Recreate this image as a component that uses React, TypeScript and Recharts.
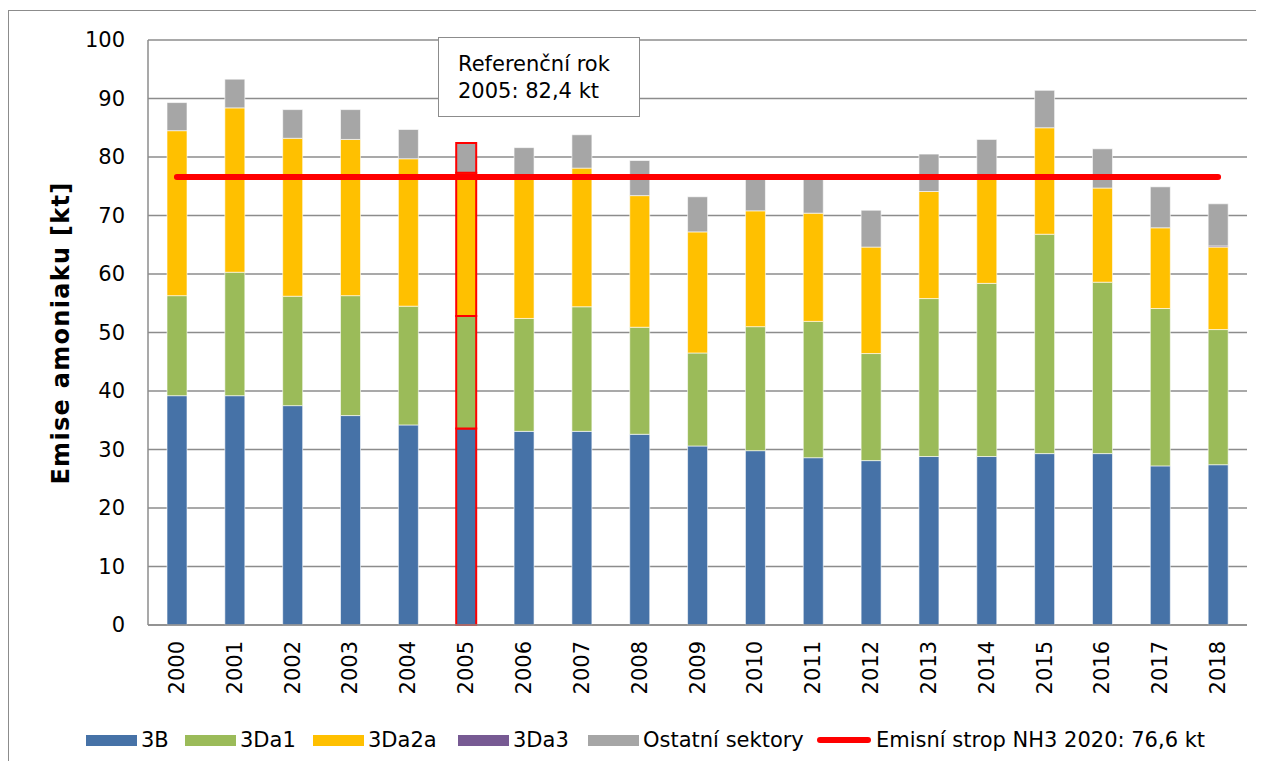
import React from "react";
import {
  ComposedChart,
  Bar,
  Line,
  XAxis,
  YAxis,
  CartesianGrid,
  Cell,
} from "recharts";

const years = [
  "2000", "2001", "2002", "2003", "2004", "2005", "2006", "2007", "2008", "2009",
  "2010", "2011", "2012", "2013", "2014", "2015", "2016", "2017", "2018",
];
const s3B = [39.2, 39.2, 37.5, 35.8, 34.2, 33.6, 33.1, 33.1, 32.6, 30.6, 29.8, 28.6, 28.1, 28.8, 28.8, 29.3, 29.3, 27.2, 27.4];
const s3Da1 = [17.1, 21.1, 18.7, 20.5, 20.3, 19.2, 19.3, 21.3, 18.3, 15.9, 21.2, 23.3, 18.3, 27.0, 29.6, 37.5, 29.3, 26.9, 23.1];
const s3Da2a = [28.2, 28.1, 27.0, 26.7, 25.2, 24.5, 24.0, 23.7, 22.5, 20.7, 19.8, 18.5, 18.2, 18.3, 17.9, 18.2, 16.1, 13.8, 14.1];
const s3Da3 = [0, 0, 0, 0, 0, 0, 0, 0, 0, 0, 0, 0, 0, 0, 0, 0, 0, 0, 0.2];
const ostatni = [4.8, 4.9, 4.9, 5.1, 5.0, 5.1, 5.2, 5.7, 6.0, 6.0, 5.7, 6.0, 6.3, 6.4, 6.7, 6.4, 6.7, 7.0, 7.2];
const stropValue = 76.6;
const yTicks = [0, 10, 20, 30, 40, 50, 60, 70, 80, 90, 100];
const refYear = "2005";

const data = years.map((year, i) => ({
  year,
  b3B: s3B[i],
  b3Da1: s3Da1[i],
  b3Da2a: s3Da2a[i],
  b3Da3: s3Da3[i],
  ostatni: ostatni[i],
  strop: stropValue,
}));

const FONT = "'DejaVu Sans', sans-serif";
const GRID = "#8c8c8c";

const series = [
  { key: "b3B", name: "3B", color: "#4672A7" },
  { key: "b3Da1", name: "3Da1", color: "#9BBB59" },
  { key: "b3Da2a", name: "3Da2a", color: "#FFC000" },
  { key: "b3Da3", name: "3Da3", color: "#775A93" },
  { key: "ostatni", name: "Ostatní sektory", color: "#A6A6A6" },
];
// legend item x positions (swatch left edge), last one is the red line
const legendX = [78, 177, 305, 450, 580, 809];

const YearTick = (props: any) => {
  const { x, y, payload } = props;
  return (
    <g transform={`translate(${x},${y + 16})`}>
      <text
        transform="rotate(-90)"
        textAnchor="end"
        dominantBaseline="central"
        fontFamily={FONT}
        fontSize={21}
        fill="#000"
      >
        {payload.value}
      </text>
    </g>
  );
};

function LegendRow() {
  const item = (left: number): React.CSSProperties => ({
    position: "absolute",
    left,
    top: 0,
    height: 26,
    display: "flex",
    alignItems: "center",
    whiteSpace: "nowrap",
  });
  return (
    <div
      style={{
        position: "absolute",
        left: 0,
        top: 719,
        fontFamily: FONT,
        fontSize: 21,
        color: "#000",
      }}
    >
      {series.map((s, i) => (
        <div key={s.key} style={item(legendX[i])}>
          <span style={{ width: 51, height: 11, background: s.color, marginRight: 4 }} />
          <span>{s.name}</span>
        </div>
      ))}
      <div style={item(legendX[5])}>
        <span
          style={{ width: 54, height: 6, background: "#FF0000", borderRadius: 3, marginRight: 5 }}
        />
        <span>Emisní strop NH3 2020: 76,6 kt</span>
      </div>
    </div>
  );
}

export default function App() {
  return (
    <div style={{ position: "relative", width: 1248, height: 753 }}>
      {/* outer frame */}
      <div
        style={{
          position: "absolute",
          left: 0,
          top: 2,
          width: 1256,
          height: 759,
          borderLeft: `1.5px solid ${GRID}`,
          borderTop: `1.5px solid ${GRID}`,
          boxSizing: "border-box",
        }}
      />
      <ComposedChart
        width={1248}
        height={753}
        data={data}
        margin={{ top: 32, right: 9, bottom: 36, left: 80 }}
        barSize={20}
      >
        <CartesianGrid vertical={false} stroke={GRID} strokeWidth={1.5} />
        <XAxis
          dataKey="year"
          interval={0}
          tickLine={false}
          tickSize={0}
          tickMargin={0}
          height={100}
          axisLine={{ stroke: GRID, strokeWidth: 1.5 }}
          tick={<YearTick />}
        />
        <YAxis
          width={60}
          domain={[0, 100]}
          ticks={yTicks}
          interval={0}
          tickLine={false}
          tickSize={0}
          tickMargin={23}
          axisLine={{ stroke: GRID, strokeWidth: 1.5 }}
          tick={{ fontFamily: FONT, fontSize: 21, fill: "#000" }}
        />
        {series.map((s) => (
          <Bar
            key={s.key}
            dataKey={s.key}
            name={s.name}
            stackId="a"
            fill={s.color}
            isAnimationActive={false}
          >
            {data.map((d, i) => (
              <Cell
                key={i}
                fill={s.color}
                stroke={d.year === refYear ? "#FF0000" : "#ffffff"}
                strokeOpacity={d.year === refYear ? 1 : 0.6}
                strokeWidth={d.year === refYear ? 2 : 1}
              />
            ))}
          </Bar>
        ))}
        <Line
          dataKey="strop"
          name="Emisní strop NH3 2020: 76,6 kt"
          stroke="#FF0000"
          strokeWidth={6}
          strokeLinecap="round"
          dot={false}
          activeDot={false}
          isAnimationActive={false}
        />
      </ComposedChart>

      {/* y axis title */}
      <div
        style={{
          position: "absolute",
          left: 53,
          top: 325,
          transform: "translate(-50%, -50%) rotate(-90deg)",
          fontFamily: FONT,
          fontWeight: "bold",
          fontSize: 24,
          letterSpacing: 1.3,
          whiteSpace: "nowrap",
          color: "#000",
        }}
      >
        Emise amoniaku [kt]
      </div>

      {/* reference-year note */}
      <div
        style={{
          position: "absolute",
          left: 430,
          top: 29,
          width: 202,
          height: 80,
          boxSizing: "border-box",
          border: `1.5px solid ${GRID}`,
          background: "#fff",
          fontFamily: FONT,
          fontSize: 21,
          lineHeight: "27px",
          padding: "13px 0 0 19px",
          color: "#000",
        }}
      >
        Referenční rok
        <br />
        2005: 82,4 kt
      </div>

      <LegendRow />
    </div>
  );
}
